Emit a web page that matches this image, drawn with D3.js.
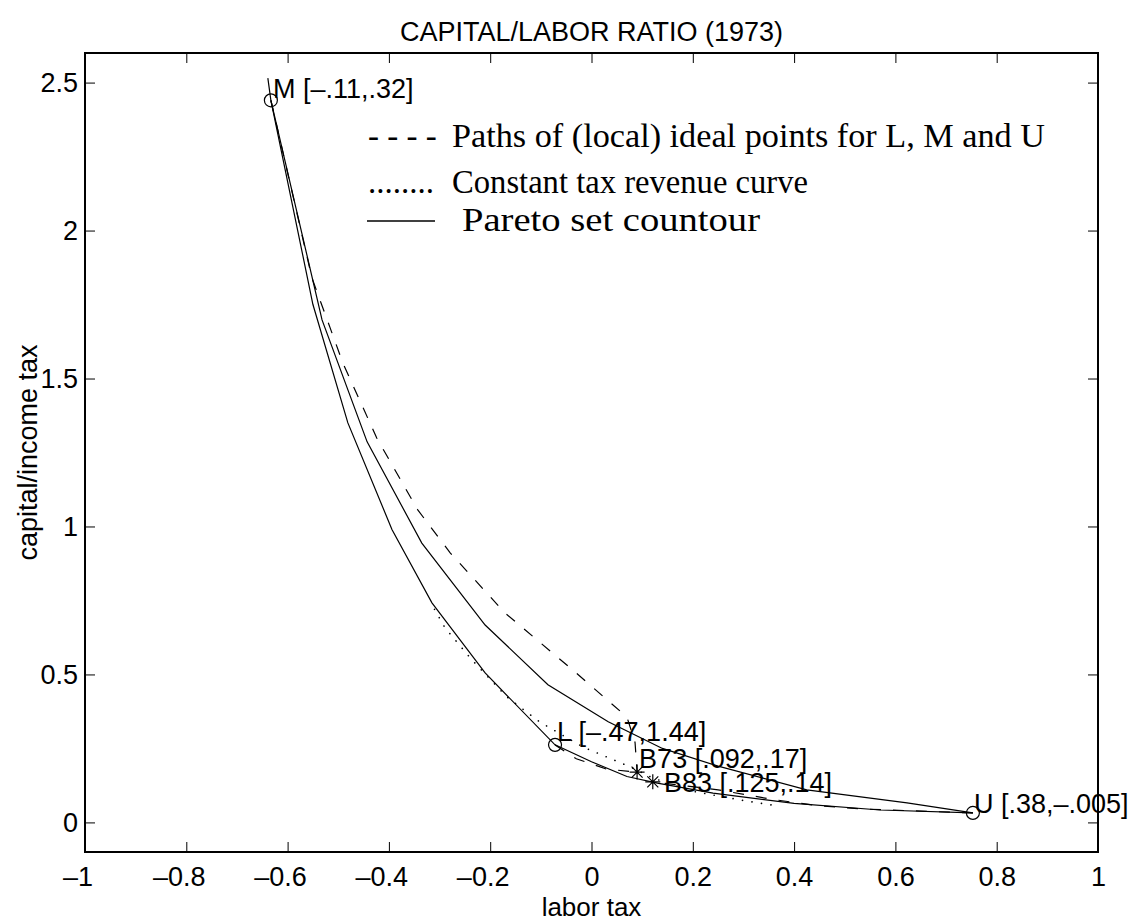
<!DOCTYPE html>
<html>
<head>
<meta charset="utf-8">
<script src="https://cdn.jsdelivr.net/npm/d3@7"></script>
<style>
  body { margin: 0; background: #fff; }
  text { font-family: "Liberation Sans", Arial, Helvetica, sans-serif; fill: #000; }
  .axis path, .axis line { stroke: #000; }
  .legend text { font-family: "Liberation Serif", "Times New Roman", serif; }
</style>
</head>
<body>
<svg id="plate" width="1136" height="923"></svg>
<script>
// tick values
var xTicks = [-1, -0.8, -0.6, -0.4, -0.2, 0, 0.2, 0.4, 0.6, 0.8, 1];
var yTicks = [0, 0.5, 1, 1.5, 2, 2.5];

// Pareto set contour (two solid branches between M, L and U)
var paretoLower = [[-0.639, 2.515], [-0.633, 2.44], [-0.55, 1.75], [-0.481, 1.35], [-0.394, 0.99],
    [-0.315, 0.742], [-0.21, 0.505], [-0.072, 0.262], [0.0, 0.205], [0.07, 0.155], [0.13, 0.133],
    [0.24, 0.099], [0.4, 0.064], [0.57, 0.042], [0.753, 0.032]];
var paretoUpper = [[-0.633, 2.44], [-0.532, 1.698], [-0.443, 1.286], [-0.335, 0.944], [-0.21, 0.667],
    [-0.086, 0.465], [0.033, 0.34], [0.14, 0.25], [0.25, 0.19], [0.425, 0.11], [0.623, 0.066],
    [0.753, 0.032]];

// paths of (local) ideal points
var pathM = [[-0.633, 2.44], [-0.552, 1.84], [-0.516, 1.671], [-0.491, 1.553], [-0.424, 1.299],
    [-0.343, 1.056], [-0.279, 0.911], [-0.171, 0.708], [-0.037, 0.515], [0.07, 0.356],
    [0.086, 0.27], [0.09, 0.17]];
var pathL = [[-0.072, 0.262], [-0.03, 0.215], [0.03, 0.18], [0.09, 0.17]];
var pathU = [[0.753, 0.032], [0.54, 0.045], [0.45, 0.056], [0.36, 0.077], [0.25, 0.11], [0.121, 0.137]];

// constant tax revenue curve
var revenue = [[-0.31, 0.72], [-0.289, 0.657], [-0.236, 0.549], [-0.167, 0.424], [-0.102, 0.339],
    [-0.017, 0.255], [0.076, 0.188], [0.121, 0.15], [0.2, 0.105], [0.3, 0.074], [0.37, 0.055]];

// ideal points (circles) and tax bundles (stars)
var idealPoints = [[-0.633, 2.44], [-0.072, 0.262], [0.753, 0.032]];
var bundles = [[0.09, 0.17], [0.121, 0.137]];

// point labels
var labelText = ['M [\u2013.11,.32]', 'L [\u2013.47,1.44]', 'B73 [.092,.17]', 'B83 [.125,.14]', 'U [.38,\u2013.005]'];
var labelX = [-0.629, -0.068, 0.094, 0.143, 0.755];
var labelY = [2.48, 0.309, 0.218, 0.134, 0.066];

var legendSample = ['- - - -', '........', ''];
var legendText = ['Paths of (local) ideal points for L, M and U', 'Constant tax revenue curve', 'Pareto set countour'];

var margin = {top: 53, right: 38, bottom: 71, left: 85};
var svgWidth = 1136, svgHeight = 923;
var width = svgWidth - margin.left - margin.right;
var height = svgHeight - margin.top - margin.bottom;

var x = d3.scaleLinear().domain([-1, 1]).range([0, width]);
var y = d3.scaleLinear().domain([-0.1, 2.6]).range([height, 0]);

var fmt = function(d) {
    var s = String(Math.abs(d));
    return (d < 0 ? '\u2013' : '') + s;
};

var svg = d3.select('#plate')
    .append('g')
    .attr('transform', 'translate(' + margin.left + ',' + margin.top + ')');

var line = d3.line()
    .x(function(d) { return x(d[0]); })
    .y(function(d) { return y(d[1]); });

// axes, ticks pointing inwards on all four sides
svg.append('g')
    .attr('class', 'axis')
    .attr('transform', 'translate(0,' + height + ')')
    .call(d3.axisBottom(x).tickValues(xTicks).tickFormat(fmt).tickSizeInner(-10).tickSizeOuter(0).tickPadding(15))
    .call(function(g) {
        g.selectAll('text').style('font-size', '27px')
            // the minus sign hangs left of the centred number
            .attr('dx', function(d) { return d < 0 ? '-0.28em' : null; });
    });
svg.append('g')
    .attr('class', 'axis')
    .call(d3.axisTop(x).tickValues(xTicks).tickFormat('').tickSizeInner(-10).tickSizeOuter(0));
svg.append('g')
    .attr('class', 'axis')
    .call(d3.axisLeft(y).tickValues(yTicks).tickFormat(fmt).tickSizeInner(-10).tickSizeOuter(0).tickPadding(7))
    .call(function(g) { g.selectAll('text').style('font-size', '27px'); });
svg.append('g')
    .attr('class', 'axis')
    .attr('transform', 'translate(' + width + ',0)')
    .call(d3.axisRight(y).tickValues(yTicks).tickFormat('').tickSizeInner(-10).tickSizeOuter(0));

svg.selectAll('.axis path').remove();
svg.selectAll('.axis line').attr('stroke', '#333').attr('stroke-width', 1);

svg.append('rect')
    .attr('width', width)
    .attr('height', height)
    .attr('fill', 'none')
    .attr('stroke', '#000')
    .attr('stroke-width', 2);

// curves
[paretoLower, paretoUpper].forEach(function(p) {
    svg.append('path').datum(p).attr('d', line)
        .attr('fill', 'none').attr('stroke', '#000').attr('stroke-width', 1.2);
});
[pathM, pathL, pathU].forEach(function(p) {
    svg.append('path').datum(p).attr('d', line)
        .attr('fill', 'none').attr('stroke', '#000').attr('stroke-width', 1.2)
        .attr('stroke-dasharray', '11,12');
});
svg.append('path').datum(revenue).attr('d', line)
    .attr('fill', 'none').attr('stroke', '#000').attr('stroke-width', 1.6)
    .attr('stroke-linecap', 'round')
    .attr('stroke-dasharray', '0.1,9.5');

// markers
svg.selectAll('circle.ideal')
    .data(idealPoints)
    .enter().append('circle')
    .attr('class', 'ideal')
    .attr('cx', function(d) { return x(d[0]); })
    .attr('cy', function(d) { return y(d[1]); })
    .attr('r', 6.5)
    .attr('fill', 'none')
    .attr('stroke', '#000')
    .attr('stroke-width', 1.2);

var star = 'M-7.5,0L7.5,0M0,-7.5L0,7.5M-5.5,-5.5L5.5,5.5M-5.5,5.5L5.5,-5.5';
svg.selectAll('path.bundle')
    .data(bundles)
    .enter().append('path')
    .attr('class', 'bundle')
    .attr('transform', function(d) { return 'translate(' + x(d[0]) + ',' + y(d[1]) + ')'; })
    .attr('d', star)
    .attr('stroke', '#000')
    .attr('stroke-width', 1.2);

// point labels
svg.selectAll('text.lbl')
    .data(labelText)
    .enter().append('text')
    .attr('class', 'lbl')
    .attr('x', function(d, i) { return x(labelX[i]); })
    .attr('y', function(d, i) { return y(labelY[i]); })
    .attr('dy', '0.36em')
    .style('font-size', '27px')
    .text(function(d) { return d; });

// legend (in the plot, upper right); widths stretched to the reference's wider TeX font
var legend = svg.append('g').attr('class', 'legend');
var legendBase = [147, 193, 231];
var legendWidth = [593, 356, 298];
legendText.forEach(function(t, i) {
    var by = legendBase[i] - margin.top;
    if (legendSample[i]) {
        legend.append('text')
            .attr('x', 368 - margin.left).attr('y', by)
            .style('font-size', '33px')
            .text(legendSample[i]);
    } else {
        legend.append('line')
            .attr('x1', 367 - margin.left).attr('x2', 435 - margin.left)
            .attr('y1', 221 - margin.top).attr('y2', 221 - margin.top)
            .attr('stroke', '#000').attr('stroke-width', 1.6);
    }
    legend.append('text')
        .attr('x', (i === 2 ? 462 : 452) - margin.left).attr('y', by)
        .attr('textLength', legendWidth[i])
        .attr('lengthAdjust', 'spacingAndGlyphs')
        .style('font-size', '33px')
        .text(t);
});

// titles
d3.select('#plate').append('text')
    .attr('x', margin.left + width / 2).attr('y', 41)
    .attr('text-anchor', 'middle')
    .style('font-size', '27px')
    .text('CAPITAL/LABOR RATIO (1973)');
d3.select('#plate').append('text')
    .attr('x', margin.left + width / 2).attr('y', 916)
    .attr('text-anchor', 'middle')
    .style('font-size', '26px')
    .text('labor tax');
d3.select('#plate').append('text')
    .attr('transform', 'translate(37,' + (margin.top + height / 2) + ') rotate(-90)')
    .attr('text-anchor', 'middle')
    .style('font-size', '27px')
    .text('capital/income tax');
</script>
</body>
</html>
